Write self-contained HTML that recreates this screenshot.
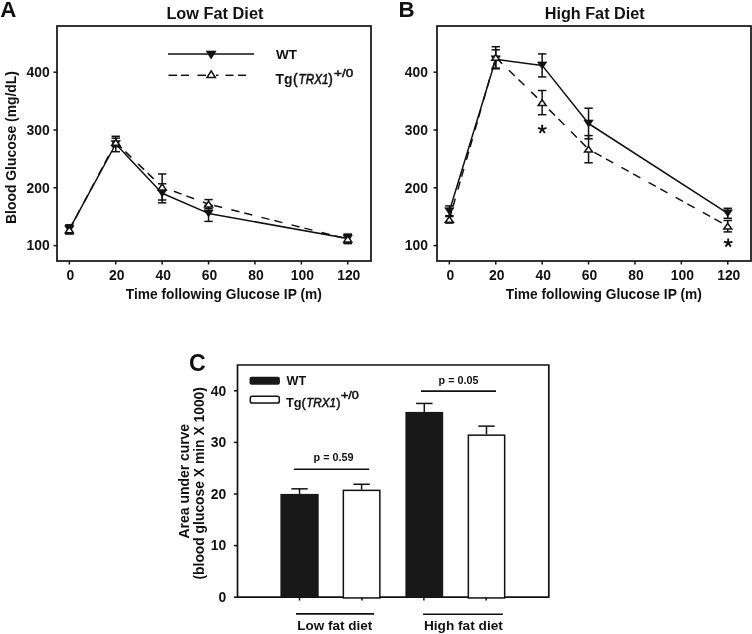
<!DOCTYPE html><html><head><meta charset="utf-8"><style>html,body{margin:0;padding:0;background:#fff;width:752px;height:634px;overflow:hidden}svg{display:block;will-change:transform}</style></head><body><svg width="752" height="634" viewBox="0 0 752 634" font-family='"Liberation Sans", sans-serif' fill="#111111" stroke-width="0">
<rect width="752" height="634" fill="#fff"/>
<style>text{stroke:#111;stroke-width:0px}</style>
<rect x="57" y="26" width="314" height="235" fill="none" stroke="#111111" stroke-width="1.7"/>
<line x1="53.5" y1="245.6" x2="57" y2="245.6" stroke="#111111" stroke-width="1.5" />
<text x="49.8" y="250.4" font-size="13.9" font-weight="bold" font-style="normal" text-anchor="end" >100</text>
<line x1="53.5" y1="187.8" x2="57" y2="187.8" stroke="#111111" stroke-width="1.5" />
<text x="49.8" y="192.60000000000002" font-size="13.9" font-weight="bold" font-style="normal" text-anchor="end" >200</text>
<line x1="53.5" y1="130.0" x2="57" y2="130.0" stroke="#111111" stroke-width="1.5" />
<text x="49.8" y="134.8" font-size="13.9" font-weight="bold" font-style="normal" text-anchor="end" >300</text>
<line x1="53.5" y1="72.20000000000002" x2="57" y2="72.20000000000002" stroke="#111111" stroke-width="1.5" />
<text x="49.8" y="77.00000000000001" font-size="13.9" font-weight="bold" font-style="normal" text-anchor="end" >400</text>
<line x1="69.35" y1="261" x2="69.35" y2="264.5" stroke="#111111" stroke-width="1.5" />
<text x="70.35" y="280.4" font-size="13.9" font-weight="bold" font-style="normal" text-anchor="middle" >0</text>
<line x1="115.75" y1="261" x2="115.75" y2="264.5" stroke="#111111" stroke-width="1.5" />
<text x="116.75" y="280.4" font-size="13.9" font-weight="bold" font-style="normal" text-anchor="middle" >20</text>
<line x1="162.14999999999998" y1="261" x2="162.14999999999998" y2="264.5" stroke="#111111" stroke-width="1.5" />
<text x="163.14999999999998" y="280.4" font-size="13.9" font-weight="bold" font-style="normal" text-anchor="middle" >40</text>
<line x1="208.54999999999998" y1="261" x2="208.54999999999998" y2="264.5" stroke="#111111" stroke-width="1.5" />
<text x="209.54999999999998" y="280.4" font-size="13.9" font-weight="bold" font-style="normal" text-anchor="middle" >60</text>
<line x1="254.95" y1="261" x2="254.95" y2="264.5" stroke="#111111" stroke-width="1.5" />
<text x="255.95" y="280.4" font-size="13.9" font-weight="bold" font-style="normal" text-anchor="middle" >80</text>
<line x1="301.34999999999997" y1="261" x2="301.34999999999997" y2="264.5" stroke="#111111" stroke-width="1.5" />
<text x="302.34999999999997" y="280.4" font-size="13.9" font-weight="bold" font-style="normal" text-anchor="middle" >100</text>
<line x1="347.75" y1="261" x2="347.75" y2="264.5" stroke="#111111" stroke-width="1.5" />
<text x="348.75" y="280.4" font-size="13.9" font-weight="bold" font-style="normal" text-anchor="middle" >120</text>
<text x="223.8" y="298.8" font-size="13.8" font-weight="bold" font-style="normal" text-anchor="middle" textLength="196" lengthAdjust="spacingAndGlyphs" >Time following Glucose IP (m)</text>
<text x="214.9" y="18.6" font-size="16" font-weight="bold" font-style="normal" text-anchor="middle" textLength="97" lengthAdjust="spacingAndGlyphs" >Low Fat Diet</text>
<text x="0.3" y="16.8" font-size="22.3" font-weight="bold" font-style="normal" text-anchor="start" >A</text>
<text transform="translate(16.2,147.5) rotate(-90)" x="0" y="0" font-size="13.8" font-weight="bold" text-anchor="middle" textLength="153" lengthAdjust="spacingAndGlyphs">Blood Glucose (mg/dL)</text>
<polyline points="69.35,229.3 115.75,144 162.14999999999998,193.3 208.54999999999998,213.4 347.75,238.6" fill="none" stroke="#111111" stroke-width="1.5" stroke-linejoin="round"/>
<line x1="69.35" y1="229.8" x2="115.75" y2="142.4" stroke="#111111" stroke-width="1.5" stroke-dasharray="8.3 5 8.3 9.4" stroke-dashoffset="0"/>
<line x1="115.75" y1="142.4" x2="162.14999999999998" y2="187.0" stroke="#111111" stroke-width="1.5" stroke-dasharray="8.3 5 8.3 9.4" stroke-dashoffset="0"/>
<line x1="162.14999999999998" y1="187.0" x2="208.54999999999998" y2="204.1" stroke="#111111" stroke-width="1.5" stroke-dasharray="8.3 5 8.3 9.4" stroke-dashoffset="18.6"/>
<line x1="208.54999999999998" y1="204.1" x2="347.75" y2="239.0" stroke="#111111" stroke-width="1.5" stroke-dasharray="8.3 5 8.3 9.4" stroke-dashoffset="7.5"/>
<line x1="69.35" y1="224.8" x2="69.35" y2="233.8" stroke="#111111" stroke-width="1.5" />
<line x1="65.14999999999999" y1="224.8" x2="73.55" y2="224.8" stroke="#111111" stroke-width="1.5" />
<line x1="65.14999999999999" y1="233.8" x2="73.55" y2="233.8" stroke="#111111" stroke-width="1.5" />
<line x1="115.75" y1="136.3" x2="115.75" y2="151.7" stroke="#111111" stroke-width="1.5" />
<line x1="111.55" y1="136.3" x2="119.95" y2="136.3" stroke="#111111" stroke-width="1.5" />
<line x1="111.55" y1="151.7" x2="119.95" y2="151.7" stroke="#111111" stroke-width="1.5" />
<line x1="162.14999999999998" y1="183.8" x2="162.14999999999998" y2="202.8" stroke="#111111" stroke-width="1.5" />
<line x1="157.95" y1="183.8" x2="166.34999999999997" y2="183.8" stroke="#111111" stroke-width="1.5" />
<line x1="157.95" y1="202.8" x2="166.34999999999997" y2="202.8" stroke="#111111" stroke-width="1.5" />
<line x1="208.54999999999998" y1="205.4" x2="208.54999999999998" y2="221.4" stroke="#111111" stroke-width="1.5" />
<line x1="204.35" y1="205.4" x2="212.74999999999997" y2="205.4" stroke="#111111" stroke-width="1.5" />
<line x1="204.35" y1="221.4" x2="212.74999999999997" y2="221.4" stroke="#111111" stroke-width="1.5" />
<line x1="347.75" y1="234.29999999999998" x2="347.75" y2="242.9" stroke="#111111" stroke-width="1.5" />
<line x1="343.55" y1="234.29999999999998" x2="351.95" y2="234.29999999999998" stroke="#111111" stroke-width="1.5" />
<line x1="343.55" y1="242.9" x2="351.95" y2="242.9" stroke="#111111" stroke-width="1.5" />
<line x1="69.35" y1="225.8" x2="69.35" y2="233.8" stroke="#111111" stroke-width="1.5" />
<line x1="65.14999999999999" y1="225.8" x2="73.55" y2="225.8" stroke="#111111" stroke-width="1.5" />
<line x1="65.14999999999999" y1="233.8" x2="73.55" y2="233.8" stroke="#111111" stroke-width="1.5" />
<line x1="115.75" y1="138.20000000000002" x2="115.75" y2="146.6" stroke="#111111" stroke-width="1.5" />
<line x1="111.55" y1="138.20000000000002" x2="119.95" y2="138.20000000000002" stroke="#111111" stroke-width="1.5" />
<line x1="111.55" y1="146.6" x2="119.95" y2="146.6" stroke="#111111" stroke-width="1.5" />
<line x1="162.14999999999998" y1="174.0" x2="162.14999999999998" y2="200.0" stroke="#111111" stroke-width="1.5" />
<line x1="157.95" y1="174.0" x2="166.34999999999997" y2="174.0" stroke="#111111" stroke-width="1.5" />
<line x1="157.95" y1="200.0" x2="166.34999999999997" y2="200.0" stroke="#111111" stroke-width="1.5" />
<line x1="208.54999999999998" y1="199.6" x2="208.54999999999998" y2="208.6" stroke="#111111" stroke-width="1.5" />
<line x1="204.35" y1="199.6" x2="212.74999999999997" y2="199.6" stroke="#111111" stroke-width="1.5" />
<line x1="204.35" y1="208.6" x2="212.74999999999997" y2="208.6" stroke="#111111" stroke-width="1.5" />
<line x1="347.75" y1="234.4" x2="347.75" y2="243.6" stroke="#111111" stroke-width="1.5" />
<line x1="343.55" y1="234.4" x2="351.95" y2="234.4" stroke="#111111" stroke-width="1.5" />
<line x1="343.55" y1="243.6" x2="351.95" y2="243.6" stroke="#111111" stroke-width="1.5" />
<path d="M64.65,225.80 L74.05,225.80 L69.35,232.80 Z" fill="#111111" stroke="#111111" stroke-width="0.6" stroke-linejoin="miter"/>
<path d="M111.05,140.50 L120.45,140.50 L115.75,147.50 Z" fill="#111111" stroke="#111111" stroke-width="0.6" stroke-linejoin="miter"/>
<path d="M157.45,189.80 L166.85,189.80 L162.15,196.80 Z" fill="#111111" stroke="#111111" stroke-width="0.6" stroke-linejoin="miter"/>
<path d="M203.85,209.90 L213.25,209.90 L208.55,216.90 Z" fill="#111111" stroke="#111111" stroke-width="0.6" stroke-linejoin="miter"/>
<path d="M343.05,235.10 L352.45,235.10 L347.75,242.10 Z" fill="#111111" stroke="#111111" stroke-width="0.6" stroke-linejoin="miter"/>
<path d="M65.35,232.70 L73.35,232.70 L69.35,226.90 Z" fill="#fff" stroke="#111111" stroke-width="1.5" stroke-linejoin="miter"/>
<path d="M111.75,145.30 L119.75,145.30 L115.75,139.50 Z" fill="#fff" stroke="#111111" stroke-width="1.5" stroke-linejoin="miter"/>
<path d="M158.15,189.90 L166.15,189.90 L162.15,184.10 Z" fill="#fff" stroke="#111111" stroke-width="1.5" stroke-linejoin="miter"/>
<path d="M204.55,207.00 L212.55,207.00 L208.55,201.20 Z" fill="#fff" stroke="#111111" stroke-width="1.5" stroke-linejoin="miter"/>
<path d="M343.75,241.90 L351.75,241.90 L347.75,236.10 Z" fill="#fff" stroke="#111111" stroke-width="1.5" stroke-linejoin="miter"/>
<rect x="437" y="26" width="314" height="235" fill="none" stroke="#111111" stroke-width="1.7"/>
<line x1="433.5" y1="245.6" x2="437" y2="245.6" stroke="#111111" stroke-width="1.5" />
<text x="428" y="250.4" font-size="13.9" font-weight="bold" font-style="normal" text-anchor="end" >100</text>
<line x1="433.5" y1="187.8" x2="437" y2="187.8" stroke="#111111" stroke-width="1.5" />
<text x="428" y="192.60000000000002" font-size="13.9" font-weight="bold" font-style="normal" text-anchor="end" >200</text>
<line x1="433.5" y1="130.0" x2="437" y2="130.0" stroke="#111111" stroke-width="1.5" />
<text x="428" y="134.8" font-size="13.9" font-weight="bold" font-style="normal" text-anchor="end" >300</text>
<line x1="433.5" y1="72.20000000000002" x2="437" y2="72.20000000000002" stroke="#111111" stroke-width="1.5" />
<text x="428" y="77.00000000000001" font-size="13.9" font-weight="bold" font-style="normal" text-anchor="end" >400</text>
<line x1="449.35" y1="261" x2="449.35" y2="264.5" stroke="#111111" stroke-width="1.5" />
<text x="450.35" y="280.4" font-size="13.9" font-weight="bold" font-style="normal" text-anchor="middle" >0</text>
<line x1="495.75" y1="261" x2="495.75" y2="264.5" stroke="#111111" stroke-width="1.5" />
<text x="496.75" y="280.4" font-size="13.9" font-weight="bold" font-style="normal" text-anchor="middle" >20</text>
<line x1="542.15" y1="261" x2="542.15" y2="264.5" stroke="#111111" stroke-width="1.5" />
<text x="543.15" y="280.4" font-size="13.9" font-weight="bold" font-style="normal" text-anchor="middle" >40</text>
<line x1="588.55" y1="261" x2="588.55" y2="264.5" stroke="#111111" stroke-width="1.5" />
<text x="589.55" y="280.4" font-size="13.9" font-weight="bold" font-style="normal" text-anchor="middle" >60</text>
<line x1="634.95" y1="261" x2="634.95" y2="264.5" stroke="#111111" stroke-width="1.5" />
<text x="635.95" y="280.4" font-size="13.9" font-weight="bold" font-style="normal" text-anchor="middle" >80</text>
<line x1="681.35" y1="261" x2="681.35" y2="264.5" stroke="#111111" stroke-width="1.5" />
<text x="682.35" y="280.4" font-size="13.9" font-weight="bold" font-style="normal" text-anchor="middle" >100</text>
<line x1="727.75" y1="261" x2="727.75" y2="264.5" stroke="#111111" stroke-width="1.5" />
<text x="728.75" y="280.4" font-size="13.9" font-weight="bold" font-style="normal" text-anchor="middle" >120</text>
<text x="603.8" y="298.8" font-size="13.8" font-weight="bold" font-style="normal" text-anchor="middle" textLength="196" lengthAdjust="spacingAndGlyphs" >Time following Glucose IP (m)</text>
<text x="594.7" y="18.6" font-size="16" font-weight="bold" font-style="normal" text-anchor="middle" textLength="100" lengthAdjust="spacingAndGlyphs" >High Fat Diet</text>
<text x="398.5" y="16.8" font-size="22.3" font-weight="bold" font-style="normal" text-anchor="start" >B</text>
<polyline points="449.35,211.2 495.75,59.3 542.15,65.4 588.55,123.5 727.75,213.3" fill="none" stroke="#111111" stroke-width="1.5" stroke-linejoin="round"/>
<line x1="449.35" y1="219.4" x2="495.75" y2="57.4" stroke="#111111" stroke-width="1.5" stroke-dasharray="8.3 5 8.3 9.4" stroke-dashoffset="0"/>
<line x1="495.75" y1="57.4" x2="542.15" y2="102.6" stroke="#111111" stroke-width="1.5" stroke-dasharray="8.3 5 8.3 9.4" stroke-dashoffset="12.6"/>
<line x1="542.15" y1="102.6" x2="588.55" y2="149.2" stroke="#111111" stroke-width="1.5" stroke-dasharray="8.3 5 8.3 9.4" stroke-dashoffset="21.1"/>
<line x1="588.55" y1="149.2" x2="727.75" y2="226.2" stroke="#111111" stroke-width="1.5" stroke-dasharray="8.3 5 8.3 9.4" stroke-dashoffset="24.4"/>
<line x1="449.35" y1="205.89999999999998" x2="449.35" y2="216.5" stroke="#111111" stroke-width="1.5" />
<line x1="445.15000000000003" y1="205.89999999999998" x2="453.55" y2="205.89999999999998" stroke="#111111" stroke-width="1.5" />
<line x1="445.15000000000003" y1="216.5" x2="453.55" y2="216.5" stroke="#111111" stroke-width="1.5" />
<line x1="495.75" y1="49.8" x2="495.75" y2="68.8" stroke="#111111" stroke-width="1.5" />
<line x1="491.55" y1="49.8" x2="499.95" y2="49.8" stroke="#111111" stroke-width="1.5" />
<line x1="491.55" y1="68.8" x2="499.95" y2="68.8" stroke="#111111" stroke-width="1.5" />
<line x1="542.15" y1="53.900000000000006" x2="542.15" y2="76.9" stroke="#111111" stroke-width="1.5" />
<line x1="537.9499999999999" y1="53.900000000000006" x2="546.35" y2="53.900000000000006" stroke="#111111" stroke-width="1.5" />
<line x1="537.9499999999999" y1="76.9" x2="546.35" y2="76.9" stroke="#111111" stroke-width="1.5" />
<line x1="588.55" y1="108.2" x2="588.55" y2="138.8" stroke="#111111" stroke-width="1.5" />
<line x1="584.3499999999999" y1="108.2" x2="592.75" y2="108.2" stroke="#111111" stroke-width="1.5" />
<line x1="584.3499999999999" y1="138.8" x2="592.75" y2="138.8" stroke="#111111" stroke-width="1.5" />
<line x1="727.75" y1="208.3" x2="727.75" y2="218.3" stroke="#111111" stroke-width="1.5" />
<line x1="723.55" y1="208.3" x2="731.95" y2="208.3" stroke="#111111" stroke-width="1.5" />
<line x1="723.55" y1="218.3" x2="731.95" y2="218.3" stroke="#111111" stroke-width="1.5" />
<line x1="449.35" y1="215.70000000000002" x2="449.35" y2="223.1" stroke="#111111" stroke-width="1.5" />
<line x1="445.15000000000003" y1="215.70000000000002" x2="453.55" y2="215.70000000000002" stroke="#111111" stroke-width="1.5" />
<line x1="445.15000000000003" y1="223.1" x2="453.55" y2="223.1" stroke="#111111" stroke-width="1.5" />
<line x1="495.75" y1="46.7" x2="495.75" y2="68.1" stroke="#111111" stroke-width="1.5" />
<line x1="491.55" y1="46.7" x2="499.95" y2="46.7" stroke="#111111" stroke-width="1.5" />
<line x1="491.55" y1="68.1" x2="499.95" y2="68.1" stroke="#111111" stroke-width="1.5" />
<line x1="542.15" y1="90.5" x2="542.15" y2="114.69999999999999" stroke="#111111" stroke-width="1.5" />
<line x1="537.9499999999999" y1="90.5" x2="546.35" y2="90.5" stroke="#111111" stroke-width="1.5" />
<line x1="537.9499999999999" y1="114.69999999999999" x2="546.35" y2="114.69999999999999" stroke="#111111" stroke-width="1.5" />
<line x1="588.55" y1="135.6" x2="588.55" y2="162.79999999999998" stroke="#111111" stroke-width="1.5" />
<line x1="584.3499999999999" y1="135.6" x2="592.75" y2="135.6" stroke="#111111" stroke-width="1.5" />
<line x1="584.3499999999999" y1="162.79999999999998" x2="592.75" y2="162.79999999999998" stroke="#111111" stroke-width="1.5" />
<line x1="727.75" y1="220.5" x2="727.75" y2="231.89999999999998" stroke="#111111" stroke-width="1.5" />
<line x1="723.55" y1="220.5" x2="731.95" y2="220.5" stroke="#111111" stroke-width="1.5" />
<line x1="723.55" y1="231.89999999999998" x2="731.95" y2="231.89999999999998" stroke="#111111" stroke-width="1.5" />
<path d="M444.65,207.70 L454.05,207.70 L449.35,214.70 Z" fill="#111111" stroke="#111111" stroke-width="0.6" stroke-linejoin="miter"/>
<path d="M491.05,55.80 L500.45,55.80 L495.75,62.80 Z" fill="#111111" stroke="#111111" stroke-width="0.6" stroke-linejoin="miter"/>
<path d="M537.45,61.90 L546.85,61.90 L542.15,68.90 Z" fill="#111111" stroke="#111111" stroke-width="0.6" stroke-linejoin="miter"/>
<path d="M583.85,120.00 L593.25,120.00 L588.55,127.00 Z" fill="#111111" stroke="#111111" stroke-width="0.6" stroke-linejoin="miter"/>
<path d="M723.05,209.80 L732.45,209.80 L727.75,216.80 Z" fill="#111111" stroke="#111111" stroke-width="0.6" stroke-linejoin="miter"/>
<path d="M445.35,222.30 L453.35,222.30 L449.35,216.50 Z" fill="#fff" stroke="#111111" stroke-width="1.5" stroke-linejoin="miter"/>
<path d="M491.75,60.30 L499.75,60.30 L495.75,54.50 Z" fill="#fff" stroke="#111111" stroke-width="1.5" stroke-linejoin="miter"/>
<path d="M538.15,105.50 L546.15,105.50 L542.15,99.70 Z" fill="#fff" stroke="#111111" stroke-width="1.5" stroke-linejoin="miter"/>
<path d="M584.55,152.10 L592.55,152.10 L588.55,146.30 Z" fill="#fff" stroke="#111111" stroke-width="1.5" stroke-linejoin="miter"/>
<path d="M723.75,229.10 L731.75,229.10 L727.75,223.30 Z" fill="#fff" stroke="#111111" stroke-width="1.5" stroke-linejoin="miter"/>
<path d="M542.20,129.30 L542.20,124.80 M542.20,129.30 L546.48,127.91 M542.20,129.30 L544.85,132.94 M542.20,129.30 L539.55,132.94 M542.20,129.30 L537.92,127.91 " stroke="#111111" stroke-width="1.9" fill="none"/>
<path d="M728.20,243.00 L728.20,238.50 M728.20,243.00 L732.48,241.61 M728.20,243.00 L730.85,246.64 M728.20,243.00 L725.55,246.64 M728.20,243.00 L723.92,241.61 " stroke="#111111" stroke-width="1.9" fill="none"/>
<line x1="168" y1="54" x2="254" y2="54" stroke="#111111" stroke-width="1.5" />
<path d="M206.10,51.00 L216.10,51.00 L211.10,59.00 Z" fill="#111111" stroke="#111111" stroke-width="0.6" stroke-linejoin="miter"/>
<line x1="168.5" y1="75.3" x2="177" y2="75.3" stroke="#111111" stroke-width="1.5" />
<line x1="181" y1="75.3" x2="189" y2="75.3" stroke="#111111" stroke-width="1.5" />
<line x1="197.5" y1="75.3" x2="206" y2="75.3" stroke="#111111" stroke-width="1.5" />
<line x1="216" y1="75.3" x2="218.5" y2="75.3" stroke="#111111" stroke-width="1.5" />
<line x1="225.5" y1="75.3" x2="233.5" y2="75.3" stroke="#111111" stroke-width="1.5" />
<line x1="238" y1="75.3" x2="246" y2="75.3" stroke="#111111" stroke-width="1.5" />
<path d="M207.00,77.50 L215.40,77.50 L211.20,70.90 Z" fill="#fff" stroke="#111111" stroke-width="1.5" stroke-linejoin="miter"/>
<text x="276" y="59" font-size="13.5" font-weight="bold" font-style="normal" text-anchor="start" >WT</text>
<text x="275.6" y="84.0" font-size="13.8" font-weight="bold" textLength="17.0" lengthAdjust="spacingAndGlyphs">Tg</text>
<text x="293.0" y="84.0" font-size="13.8" font-weight="normal" style="stroke-width:0.5px">(</text>
<text x="298.6" y="84.0" font-size="13.8" font-weight="normal" font-style="italic" style="stroke-width:0.55px" textLength="29.8" lengthAdjust="spacingAndGlyphs">TRX1</text>
<text x="328.2" y="84.0" font-size="13.8" font-weight="normal" style="stroke-width:0.5px">)</text>
<text x="334.0" y="77.0" font-size="11.6" font-weight="normal" style="stroke-width:0.5px" textLength="19.2" lengthAdjust="spacingAndGlyphs">+/0</text>
<path d="M237.5,365 H548.8 V597.2 H237.5 Z" fill="none" stroke="#111111" stroke-width="1.7"/>
<line x1="234.0" y1="597.2" x2="237.5" y2="597.2" stroke="#111111" stroke-width="1.5" />
<text x="226.2" y="601.9000000000001" font-size="13.9" font-weight="bold" font-style="normal" text-anchor="end" >0</text>
<line x1="234.0" y1="545.6" x2="237.5" y2="545.6" stroke="#111111" stroke-width="1.5" />
<text x="226.2" y="550.3000000000001" font-size="13.9" font-weight="bold" font-style="normal" text-anchor="end" >10</text>
<line x1="234.0" y1="494.00000000000006" x2="237.5" y2="494.00000000000006" stroke="#111111" stroke-width="1.5" />
<text x="226.2" y="498.70000000000005" font-size="13.9" font-weight="bold" font-style="normal" text-anchor="end" >20</text>
<line x1="234.0" y1="442.40000000000003" x2="237.5" y2="442.40000000000003" stroke="#111111" stroke-width="1.5" />
<text x="226.2" y="447.1" font-size="13.9" font-weight="bold" font-style="normal" text-anchor="end" >30</text>
<line x1="234.0" y1="390.80000000000007" x2="237.5" y2="390.80000000000007" stroke="#111111" stroke-width="1.5" />
<text x="226.2" y="395.50000000000006" font-size="13.9" font-weight="bold" font-style="normal" text-anchor="end" >40</text>
<text transform="translate(189,481.2) rotate(-90)" font-size="13.8" font-weight="bold" text-anchor="middle" textLength="114.5" lengthAdjust="spacingAndGlyphs">Area under curve</text>
<text transform="translate(204.2,483.3) rotate(-90)" font-size="13.8" font-weight="bold" text-anchor="middle" textLength="192.5" lengthAdjust="spacingAndGlyphs">(blood glucose X min X 1000)</text>
<text x="189.0" y="370.8" font-size="23.2" font-weight="bold" font-style="normal" text-anchor="start" >C</text>
<line x1="299.54999999999995" y1="493.89680000000004" x2="299.54999999999995" y2="488.84000000000003" stroke="#111111" stroke-width="1.5" />
<line x1="291.34999999999997" y1="488.84000000000003" x2="307.74999999999994" y2="488.84000000000003" stroke="#111111" stroke-width="1.5" />
<rect x="280.4" y="493.89680000000004" width="38.30000000000001" height="103.3032" fill="#181818"/>
<line x1="361.6" y1="489.61400000000003" x2="361.6" y2="484.24760000000003" stroke="#111111" stroke-width="1.5" />
<line x1="353.40000000000003" y1="484.24760000000003" x2="369.8" y2="484.24760000000003" stroke="#111111" stroke-width="1.5" />
<rect x="343.35" y="490.36400000000003" width="36.5" height="107.58600000000001" fill="#fff" stroke="#111111" stroke-width="1.5"/>
<line x1="424.29999999999995" y1="411.90440000000007" x2="424.29999999999995" y2="403.44200000000006" stroke="#111111" stroke-width="1.5" />
<line x1="416.09999999999997" y1="403.44200000000006" x2="432.49999999999994" y2="403.44200000000006" stroke="#111111" stroke-width="1.5" />
<rect x="405.4" y="411.90440000000007" width="37.80000000000001" height="185.29559999999998" fill="#181818"/>
<line x1="486.5" y1="434.40200000000004" x2="486.5" y2="426.1460000000001" stroke="#111111" stroke-width="1.5" />
<line x1="478.3" y1="426.1460000000001" x2="494.7" y2="426.1460000000001" stroke="#111111" stroke-width="1.5" />
<rect x="468.35" y="435.15200000000004" width="36.299999999999955" height="162.798" fill="#fff" stroke="#111111" stroke-width="1.5"/>
<line x1="299.5" y1="597.2" x2="299.5" y2="600.5" stroke="#111111" stroke-width="1.5" />
<line x1="361.9" y1="597.2" x2="361.9" y2="600.5" stroke="#111111" stroke-width="1.5" />
<line x1="423.9" y1="597.2" x2="423.9" y2="600.5" stroke="#111111" stroke-width="1.5" />
<line x1="486.2" y1="597.2" x2="486.2" y2="600.5" stroke="#111111" stroke-width="1.5" />
<line x1="296" y1="613.9" x2="374.1" y2="613.9" stroke="#111111" stroke-width="1.6" />
<line x1="423.1" y1="614.2" x2="502.9" y2="614.2" stroke="#111111" stroke-width="1.6" />
<text x="334.8" y="630.2" font-size="13.6" font-weight="bold" font-style="normal" text-anchor="middle" textLength="75" lengthAdjust="spacingAndGlyphs" >Low fat diet</text>
<text x="463.4" y="630.2" font-size="13.6" font-weight="bold" font-style="normal" text-anchor="middle" textLength="79" lengthAdjust="spacingAndGlyphs" >High fat diet</text>
<line x1="293.9" y1="469.2" x2="369.2" y2="469.2" stroke="#111111" stroke-width="1.6" />
<line x1="421" y1="391.1" x2="496" y2="391.1" stroke="#111111" stroke-width="1.6" />
<text x="333.5" y="461.2" font-size="10.8" font-weight="bold" font-style="normal" text-anchor="middle" >p = 0.59</text>
<text x="458.5" y="383.9" font-size="10.8" font-weight="bold" font-style="normal" text-anchor="middle" >p = 0.05</text>
<rect x="249.5" y="376.8" width="30.4" height="8" rx="2" fill="#181818"/>
<rect x="250.3" y="396.3" width="29" height="6.8" rx="1.8" fill="#fff" stroke="#111111" stroke-width="1.5"/>
<text x="286.5" y="384.9" font-size="12.6" font-weight="bold" font-style="normal" text-anchor="start" >WT</text>
<text x="286.0" y="406.6" font-size="12.8" font-weight="bold" textLength="15.6" lengthAdjust="spacingAndGlyphs">Tg</text>
<text x="301.4" y="406.6" font-size="12.8" font-weight="normal" style="stroke-width:0.5px">(</text>
<text x="306.2" y="406.6" font-size="12.8" font-weight="normal" font-style="italic" style="stroke-width:0.55px" textLength="29.8" lengthAdjust="spacingAndGlyphs">TRX1</text>
<text x="336.3" y="406.6" font-size="12.8" font-weight="normal" style="stroke-width:0.5px">)</text>
<text x="341.0" y="399.0" font-size="10.6" font-weight="normal" style="stroke-width:0.5px" textLength="17.9" lengthAdjust="spacingAndGlyphs">+/0</text>
</svg></body></html>
